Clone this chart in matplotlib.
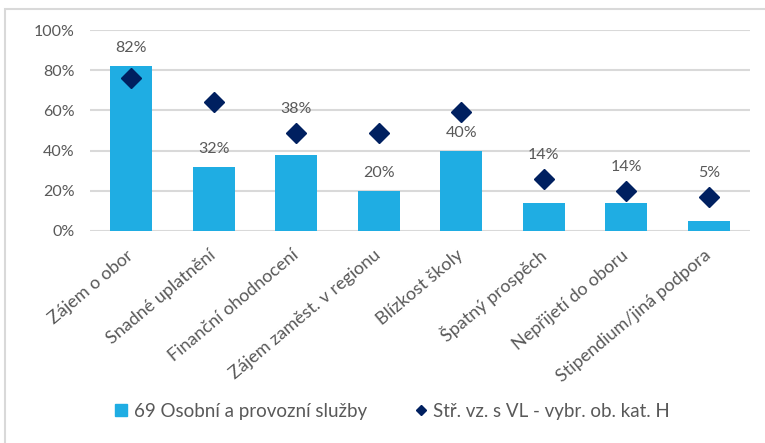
import matplotlib.pyplot as plt
from matplotlib.patches import Rectangle
from matplotlib.lines import Line2D
import numpy as np

categories = ['Zájem o obor', 'Snadné uplatnění', 'Finanční ohodnocení',
              'Zájem zaměst. v regionu', 'Blízkost školy', 'Špatný prospěch',
              'Nepřijetí do oboru', 'Stipendium/jiná podpora']
obor_69 = [82, 32, 38, 20, 40, 14, 14, 5]
str_vz = [76, 64, 49, 49, 59, 26, 20, 17]
ticks = [0, 20, 40, 60, 80, 100]

plt.rcParams['font.family'] = ['Lato', 'DejaVu Sans']
grey = '#595959'

fig = plt.figure(figsize=(7.65, 4.43), dpi=100)
ax = fig.add_axes([90/765, 1-231/443, 660/765, 201/443])

x = np.arange(len(categories))
ax.bar(x, obor_69, width=0.51, color='#1fade3', zorder=2)
ax.plot(x, str_vz, linestyle='none', marker='D', ms=10.5, color='#002060', zorder=3)

# labels sit above the bar, or above the diamond when it is just over the bar
for xi, v, d in zip(x, obor_69, str_vz):
    if 0 < d - v < 15:
        ax.annotate(f'{v}%', (xi, d), xytext=(0, 17), textcoords='offset points',
                    ha='center', va='center', fontsize=11.5, color=grey)
    else:
        ax.annotate(f'{v}%', (xi, v), xytext=(0, 13), textcoords='offset points',
                    ha='center', va='center', fontsize=11.5, color=grey)

ax.set_xlim(-0.5, len(categories) - 0.5)
ax.set_ylim(0, 100)
ax.set_yticks(ticks)
ax.set_yticklabels([f'{t}%' for t in ticks])
ax.set_xticks(x)
ax.set_xticklabels(categories, rotation=40, ha='right', va='center',
                   rotation_mode='anchor', fontsize=13)
ax.tick_params(axis='y', length=0, labelsize=11.5, labelcolor=grey, pad=11)
ax.tick_params(axis='x', length=0, labelcolor=grey, pad=16)
ax.grid(axis='y', color='#d9d9d9', linewidth=1.5, zorder=0)
for s in ax.spines.values():
    s.set_visible(False)

h_bar = Line2D([], [], linestyle='none', marker='s', ms=8, color='#1fade3')
h_dia = Line2D([], [], linestyle='none', marker='D', ms=5, color='#002060')
leg = fig.legend([h_bar, h_dia],
                 ['69 Osobní a provozní služby', 'Stř. vz. s VL - vybr. ob. kat. H'],
                 loc='center', bbox_to_anchor=(393/765, 1-411/443), ncol=2,
                 frameon=False, fontsize=13.5, handlelength=0.6,
                 columnspacing=2.6, handletextpad=0.35)
for t in leg.get_texts():
    t.set_color(grey)

# chart border (cropped screenshot)
fig.patches.append(Rectangle((5/765, -0.1), 1.2, 1 - 9/443 + 0.1,
                             transform=fig.transFigure, fill=False,
                             edgecolor='#d9d9d9', linewidth=1.5))

fig.savefig('out.png', dpi=100)
